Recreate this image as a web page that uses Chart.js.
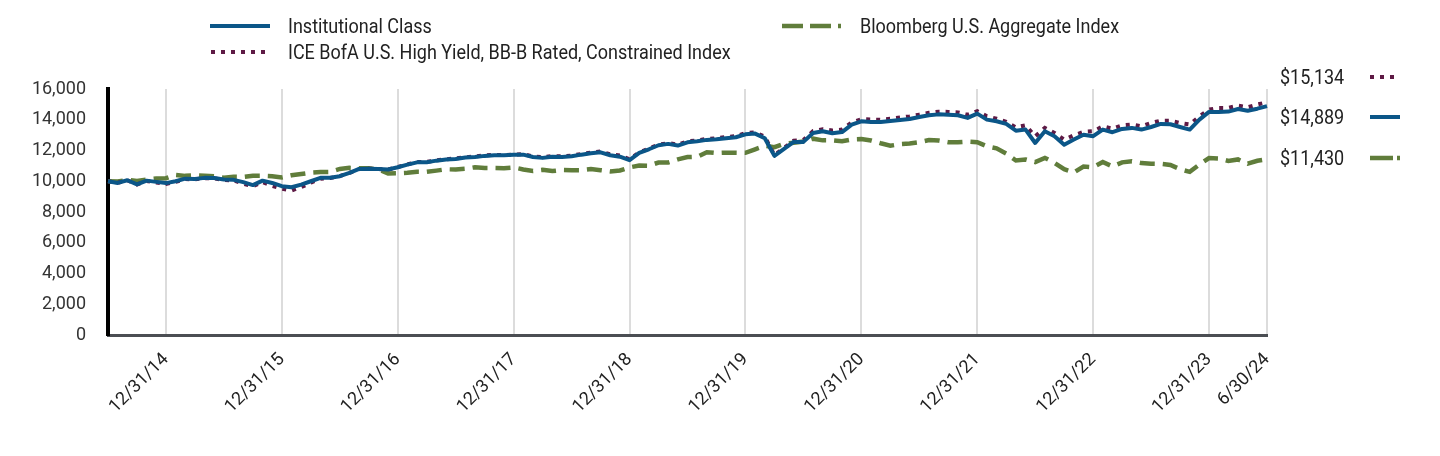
<!DOCTYPE html>
<html>
<head>
<meta charset="utf-8">
<script src="https://cdn.jsdelivr.net/npm/chart.js@4.4.1/dist/chart.umd.min.js"></script>
<style>
html,body{margin:0;padding:0;background:#fff;}
#wrap{position:relative;width:1440px;height:456px;font-family:Roboto,"Noto Sans",sans-serif;color:#222;overflow:hidden;}
#c{position:absolute;left:0;top:0;}
.t{position:absolute;font-size:20px;line-height:22px;white-space:nowrap;transform:scaleX(0.9);transform-origin:0 50%;}
.s{position:absolute;}
</style>
</head>
<body>
<div id="wrap">
  <canvas id="c" width="1440" height="456"></canvas>
  <svg class="s" style="left:210px;top:22px" width="62" height="8"><line x1="0" y1="4" x2="60" y2="4" stroke="#0b5688" stroke-width="4"/></svg>
  <div class="t" style="left:288px;top:15px">Institutional Class</div>
  <svg class="s" style="left:210px;top:48px" width="62" height="8"><line x1="1" y1="4" x2="60" y2="4" stroke="#5e1a45" stroke-width="4" stroke-dasharray="4 6"/></svg>
  <div class="t" style="left:288px;top:41px">ICE BofA U.S. High Yield, BB-B Rated, Constrained Index</div>
  <svg class="s" style="left:780px;top:22px" width="64" height="8"><line x1="2" y1="4" x2="62" y2="4" stroke="#607d3b" stroke-width="4.5" stroke-dasharray="21 7 21 7 3 10"/></svg>
  <div class="t" style="left:860px;top:15px">Bloomberg U.S. Aggregate Index</div>

  <div class="t" style="left:1280px;top:66px">$15,134</div>
  <svg class="s" style="left:1368px;top:73px" width="34" height="8"><line x1="2" y1="4" x2="32" y2="4" stroke="#5e1a45" stroke-width="4" stroke-dasharray="4 6"/></svg>
  <div class="t" style="left:1280px;top:106px">$14,889</div>
  <svg class="s" style="left:1368px;top:113px" width="34" height="8"><line x1="2" y1="4" x2="32" y2="4" stroke="#0b5688" stroke-width="4"/></svg>
  <div class="t" style="left:1280px;top:147px">$11,430</div>
  <svg class="s" style="left:1368px;top:154px" width="34" height="8"><line x1="2" y1="4" x2="32" y2="4" stroke="#607d3b" stroke-width="4.5" stroke-dasharray="23 4 3 10"/></svg>
</div>
<script>
const categories = [
 "6/30/14","7/31/14","8/31/14","9/30/14","10/31/14","11/30/14","12/31/14",
 "1/31/15","2/28/15","3/31/15","4/30/15","5/31/15","6/30/15","7/31/15","8/31/15","9/30/15","10/31/15","11/30/15","12/31/15",
 "1/31/16","2/29/16","3/31/16","4/30/16","5/31/16","6/30/16","7/31/16","8/31/16","9/30/16","10/31/16","11/30/16","12/31/16",
 "1/31/17","2/28/17","3/31/17","4/30/17","5/31/17","6/30/17","7/31/17","8/31/17","9/30/17","10/31/17","11/30/17","12/31/17",
 "1/31/18","2/28/18","3/31/18","4/30/18","5/31/18","6/30/18","7/31/18","8/31/18","9/30/18","10/31/18","11/30/18","12/31/18",
 "1/31/19","2/28/19","3/31/19","4/30/19","5/31/19","6/30/19","7/31/19","8/31/19","9/30/19","10/31/19","11/30/19","12/31/19",
 "1/31/20","2/29/20","3/31/20","4/30/20","5/31/20","6/30/20","7/31/20","8/31/20","9/30/20","10/31/20","11/30/20","12/31/20",
 "1/31/21","2/28/21","3/31/21","4/30/21","5/31/21","6/30/21","7/31/21","8/31/21","9/30/21","10/31/21","11/30/21","12/31/21",
 "1/31/22","2/28/22","3/31/22","4/30/22","5/31/22","6/30/22","7/31/22","8/31/22","9/30/22","10/31/22","11/30/22","12/31/22",
 "1/31/23","2/28/23","3/31/23","4/30/23","5/31/23","6/30/23","7/31/23","8/31/23","9/30/23","10/31/23","11/30/23","12/31/23",
 "1/31/24","2/29/24","3/31/24","4/30/24","5/31/24","6/30/24"
];
const tickLabels = ["12/31/14","12/31/15","12/31/16","12/31/17","12/31/18","12/31/19","12/31/20","12/31/21","12/31/22","12/31/23","6/30/24"];

const institutionalClass = [
 10000,9890,10065,9800,10040,9960,9880,
 10000,10170,10150,10220,10210,10110,10090,9940,9750,10040,9890,9680,
 9610,9780,10000,10220,10230,10330,10540,10800,10820,10800,10760,10910,
 11080,11230,11240,11340,11410,11450,11540,11580,11650,11690,11690,11730,
 11730,11580,11520,11600,11580,11620,11730,11820,11880,11690,11600,11370,
 11840,12080,12340,12430,12320,12530,12600,12690,12730,12800,12860,13050,
 13100,12800,11650,12100,12560,12560,13140,13250,13120,13200,13680,13900,
 13860,13860,13920,13990,14050,14180,14290,14350,14330,14290,14120,14400,
 14010,13900,13730,13290,13360,12490,13250,12930,12380,12710,13030,12930,
 13360,13190,13400,13470,13360,13530,13730,13710,13530,13360,14010,14510,
 14510,14530,14700,14590,14720,14889
];
const iceBofAHighYieldBBB = [
 10000,9900,10060,9790,10020,9920,9830,
 9960,10140,10130,10200,10190,10080,10060,9840,9680,9940,9700,9520,
 9400,9620,9900,10170,10210,10330,10550,10790,10820,10790,10760,10920,
 11100,11250,11260,11360,11430,11480,11560,11610,11680,11710,11700,11740,
 11760,11620,11560,11640,11620,11670,11770,11860,11930,11760,11680,11420,
 11880,12120,12380,12480,12380,12590,12660,12750,12800,12870,12930,13130,
 13170,12900,11700,12170,12640,12680,13260,13380,13300,13360,13820,14040,
 14010,14000,14060,14140,14220,14330,14450,14520,14510,14480,14320,14560,
 14220,14070,13860,13510,13640,12920,13470,13140,12710,12990,13210,13250,
 13570,13420,13640,13690,13580,13790,13940,13940,13790,13690,14220,14660,
 14770,14770,14920,14810,14990,15134
];
const bloombergUSAggregate = [
 10000,9980,10090,10020,10110,10180,10200,
 10410,10350,10390,10360,10330,10230,10290,10280,10350,10350,10320,10250,
 10390,10470,10560,10600,10610,10800,10870,10850,10850,10760,10510,10520,
 10550,10620,10610,10690,10780,10760,10810,10910,10860,10860,10850,10900,
 10770,10670,10740,10660,10730,10720,10720,10790,10720,10640,10700,10900,
 11020,11010,11220,11220,11420,11570,11590,11890,11830,11860,11860,11850,
 12080,12300,12220,12440,12500,12580,12770,12660,12660,12600,12720,12740,
 12650,12470,12310,12410,12450,12540,12680,12650,12540,12540,12580,12540,
 12270,12140,11800,11350,11420,11250,11520,11190,10780,10570,10960,10910,
 11250,10960,11230,11300,11180,11140,11130,11060,10780,10610,11090,11510,
 11480,11320,11420,11140,11330,11430
];
const yMin = 0, yMax = 16000, yStep = 2000;

new Chart(document.getElementById('c'), {
  type: 'line',
  data: {
    labels: categories,
    datasets: [
      {label:'Institutional Class', data: institutionalClass, borderColor:'#0b5688', borderWidth:4, pointRadius:0, tension:0, fill:false, borderJoinStyle:'round'},
      {label:'ICE BofA U.S. High Yield, BB-B Rated, Constrained Index', data: iceBofAHighYieldBBB, borderColor:'#5e1a45', borderWidth:4, borderDash:[4,6], pointRadius:0, tension:0, fill:false},
      {label:'Bloomberg U.S. Aggregate Index', data: bloombergUSAggregate, borderColor:'#607d3b', borderWidth:4.5, borderDash:[15,8], pointRadius:0, tension:0, fill:false}
    ]
  },
  options: {
    responsive:false,
    animation:false,
    devicePixelRatio:1,
    layout:{padding:{left:0,right:173,top:89,bottom:0}},
    plugins:{legend:{display:false},tooltip:{enabled:false}},
    scales:{
      x:{
        type:'category', offset:false,
        grid:{display:true, drawTicks:false, color:'#dcdcdc', lineWidth:2},
        border:{display:true, color:'#4b4e53', width:3},
        ticks:{autoSkip:false, minRotation:45, maxRotation:45, padding:14, color:'#222',
          font:{family:'Roboto', size:18},
          callback:function(v,i){ const l = categories[i]; return tickLabels.includes(l) ? l : null; }},
        afterFit:function(s){ s.height = 121; }
      },
      y:{
        min:yMin, max:yMax,
        grid:{display:true, drawOnChartArea:false, drawTicks:false},
        border:{display:true, color:'#000', width:4},
        ticks:{stepSize:yStep, padding:22, color:'#333', font:{family:'Roboto', size:18},
          callback:function(v){ return v.toLocaleString('en-US'); }},
        afterFit:function(s){ s.width = 108; }
      }
    }
  }
});
</script>
</body>
</html>
